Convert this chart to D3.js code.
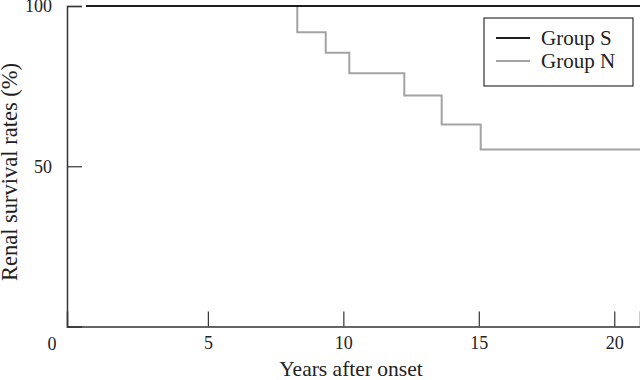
<!DOCTYPE html>
<html lang="en">
	<head>
		<meta charset="utf-8">
		<title>Renal survival</title>
		<script src="https://d3js.org/d3.v7.min.js"></script>
		<style type="text/css">
			body { margin: 0; background: #fff; }
			text { font-family: "Liberation Serif", "DejaVu Serif", serif; fill: #222; }
		</style>
	</head>
	<body>
<div id="chart"></div>
		<script type="text/javascript">
// Data
const groupS_years = [0.5, 21];
const groupS_rates = [100, 100];

const groupN_years = [0.5, 8.3, 9.35, 10.22, 12.25, 13.63, 15.07, 21];
const groupN_rates = [100, 91.8, 85.4, 79.0, 72.1, 63.0, 55.2, 55.2];

const xTicks = [5, 10, 15, 20];
const yTicks = [50, 100];
const legendNames = ["Group S", "Group N"];
const legendColors = ["#1e1e1e", "#a3a3a3"];

//Width and height
const w = 640;
const h = 380;

//Scales
const xScale = d3.scaleLinear()
	.domain([-0.2, 20.95])
	.range([67, 640]);

const yScale = d3.scaleLinear()
	.domain([0, 100])
	.range([326.5, 6]);

const svg = d3.select("div#chart")
	.append("svg")
	.attr("width", w)
	.attr("height", h);

//X axis (ticks point inward, so the label gap is set by tickPadding only)
const xAxis = d3.axisBottom(xScale)
	.tickValues(xTicks)
	.tickSize(-15)
	.tickPadding(10)
	.tickFormat(d3.format("d"));

const gx = svg.append("g")
	.attr("transform", "translate(0," + yScale(0) + ")")
	.call(xAxis);
gx.select(".domain").attr("stroke", "#333").attr("stroke-width", 1.5);
gx.selectAll(".tick line").attr("stroke", "#333").attr("stroke-width", 1.2);
gx.selectAll(".tick text").attr("font-size", 18).attr("fill", "#222")
	.style("font-family", "Liberation Serif");

//Y axis
const yAxis = d3.axisLeft(yScale)
	.tickValues(yTicks)
	.tickSize(-15)
	.tickPadding(15);

const gy = svg.append("g")
	.attr("transform", "translate(" + xScale.range()[0] + ",0)")
	.call(yAxis);
gy.select(".domain").attr("stroke", "#333").attr("stroke-width", 1.5);
gy.selectAll(".tick line").attr("stroke", "#333").attr("stroke-width", 1.2);
gy.selectAll(".tick text").attr("font-size", 18).attr("fill", "#222")
	.style("font-family", "Liberation Serif");

// corner zero label
svg.append("text")
	.attr("x", 52)
	.attr("y", yScale(0) + 23)
	.attr("text-anchor", "middle")
	.attr("font-size", 18)
	.text("0");

//Axis titles
svg.append("text")
	.attr("x", 351)
	.attr("y", 376)
	.attr("text-anchor", "middle")
	.attr("font-size", 21.5)
	.text("Years after onset");

svg.append("text")
	.attr("transform", "translate(17," + 172 + ") rotate(-90)")
	.attr("text-anchor", "middle")
	.attr("font-size", 22.5)
	.text("Renal survival rates (%)");

//Survival lines
const line = d3.line()
	.x(d => xScale(d[0]))
	.y(d => yScale(d[1]))
	.curve(d3.curveStepAfter);

svg.append("path")
	.datum(d3.zip(groupN_years, groupN_rates))
	.attr("fill", "none")
	.attr("stroke", legendColors[1])
	.attr("stroke-width", 2)
	.attr("d", line);

svg.append("path")
	.datum(d3.zip(groupS_years, groupS_rates))
	.attr("fill", "none")
	.attr("stroke", legendColors[0])
	.attr("stroke-width", 2.2)
	.attr("d", line);

//Legend
const legend = svg.append("g").attr("transform", "translate(484,18)");
legend.append("rect")
	.attr("width", 149)
	.attr("height", 68)
	.attr("fill", "#fff")
	.attr("stroke", "#333")
	.attr("stroke-width", 1.2);

const items = legend.selectAll("g.item")
	.data(legendNames)
	.enter()
	.append("g")
	.attr("class", "item")
	.attr("transform", (d, i) => "translate(0," + (20 + i * 23) + ")");

items.append("line")
	.attr("x1", 12)
	.attr("x2", 46)
	.attr("stroke", (d, i) => legendColors[i])
	.attr("stroke-width", 2);

items.append("text")
	.attr("x", 57)
	.attr("y", 7)
	.attr("font-size", 21)
	.text(d => d);

		</script>
	</body>
</html>
